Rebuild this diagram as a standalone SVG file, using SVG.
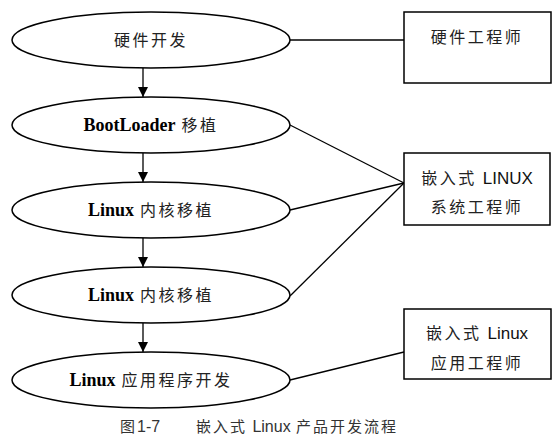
<svg xmlns="http://www.w3.org/2000/svg" width="554" height="444" viewBox="0 0 554 444">
<style>
.node ellipse, .node rect { fill: #fff; stroke: #000; stroke-width: 1.5; }
.conn line { stroke: #000; stroke-width: 1.3; }
.cn { font-family: "Noto Sans CJK SC", sans-serif; font-size: 16px; fill: #222; letter-spacing: 2.5px; }
.lb { font-family: "Liberation Serif", serif; font-weight: bold; font-size: 18px; fill: #000; letter-spacing: 0; }
.ls { font-family: "Liberation Sans", sans-serif; font-size: 17px; fill: #111; letter-spacing: 0; }
.cap { font-family: "Noto Sans CJK SC", sans-serif; font-size: 15px; fill: #333; letter-spacing: 2px; }
.capl { font-family: "Liberation Sans", sans-serif; font-size: 16px; letter-spacing: 0; }
</style>
<defs>
<marker id="ah" viewBox="0 0 10 10" refX="10" refY="5" markerWidth="10" markerHeight="10" markerUnits="userSpaceOnUse" orient="auto">
<path d="M0,0 L10,5 L0,10 z" fill="#000"/>
</marker>
</defs>
<g id="connectors" class="conn">
<line x1="143" y1="68" x2="143" y2="97" marker-end="url(#ah)"/>
<line x1="143" y1="153" x2="143" y2="182" marker-end="url(#ah)"/>
<line x1="143" y1="238" x2="143" y2="267" marker-end="url(#ah)"/>
<line x1="143" y1="323" x2="143" y2="352" marker-end="url(#ah)"/>
<line x1="290" y1="40" x2="404" y2="40"/>
<line x1="290" y1="125" x2="404" y2="183"/>
<line x1="290" y1="210" x2="404" y2="183"/>
<line x1="290" y1="296" x2="404" y2="183"/>
<line x1="290" y1="380" x2="404" y2="352"/>
</g>
<g id="n1" class="node">
<ellipse cx="151" cy="40" rx="139" ry="28"/>
<text class="cn" x="151" y="46" text-anchor="middle">硬件开发</text>
</g>
<g id="n2" class="node">
<ellipse cx="151" cy="125" rx="139" ry="28"/>
<text class="cn" x="151" y="131" text-anchor="middle"><tspan class="lb">BootLoader</tspan> 移植</text>
</g>
<g id="n3" class="node">
<ellipse cx="151" cy="210" rx="139" ry="28"/>
<text class="cn" x="151" y="216" text-anchor="middle"><tspan class="lb">Linux</tspan> 内核移植</text>
</g>
<g id="n4" class="node">
<ellipse cx="151" cy="295" rx="139" ry="28"/>
<text class="cn" x="151" y="301" text-anchor="middle"><tspan class="lb">Linux</tspan> 内核移植</text>
</g>
<g id="n5" class="node">
<ellipse cx="151" cy="380" rx="139" ry="28"/>
<text class="cn" x="151" y="386" text-anchor="middle"><tspan class="lb">Linux</tspan> 应用程序开发</text>
</g>
<g id="r1" class="node">
<rect x="404" y="12" width="147" height="71"/>
<text class="cn" x="477" y="43" text-anchor="middle">硬件工程师</text>
</g>
<g id="r2" class="node">
<rect x="404" y="153" width="146" height="72"/>
<text class="cn" x="477" y="184" text-anchor="middle">嵌入式 <tspan class="ls">LINUX</tspan></text>
<text class="cn" x="477" y="213" text-anchor="middle">系统工程师</text>
</g>
<g id="r3" class="node">
<rect x="404" y="309" width="147" height="70"/>
<text class="cn" x="477" y="339" text-anchor="middle">嵌入式 <tspan class="ls">Linux</tspan></text>
<text class="cn" x="477" y="369" text-anchor="middle">应用工程师</text>
</g>
<g id="caption">
<text class="cap" x="120" y="432">图<tspan class="capl">1-7</tspan></text>
<text class="cap" x="196" y="432">嵌入式 <tspan class="capl">Linux</tspan> 产品开发流程</text>
</g>
</svg>
